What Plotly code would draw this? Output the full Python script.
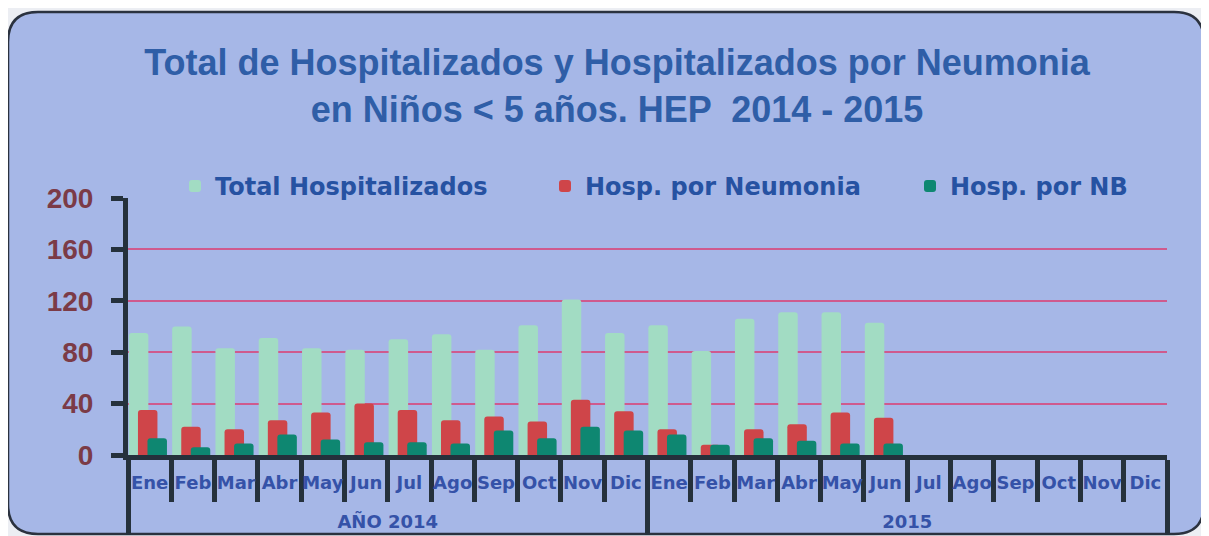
import plotly.graph_objects as go

months = ["Ene", "Feb", "Mar", "Abr", "May", "Jun", "Jul", "Ago", "Sep", "Oct", "Nov", "Dic"]
years = ["AÑO 2014", "2015"]

total_2014 = [95, 100, 83, 91, 83, 82, 90, 94, 82, 101, 121, 95]
total_2015 = [101, 81, 106, 111, 111, 103, None, None, None, None, None, None]
neumonia_2014 = [35, 22, 20, 27, 33, 40, 35, 27, 30, 26, 43, 34]
neumonia_2015 = [20, 8, 20, 24, 33, 29, None, None, None, None, None, None]
nb_2014 = [13, 6, 9, 16, 12, 10, 10, 9, 19, 13, 22, 19]
nb_2015 = [16, 8, 13, 11, 9, 9, None, None, None, None, None, None]

# year group labels are set one line lower, as in the original chart
x_year = ["<br>" + years[0]] * 12 + ["<br>" + years[1]] * 12
x_month = months + months
x = [x_year, x_month]

# page has an 8px body margin: screen coords = figure coords + 8
OFF = 8
SW, SH = 1209, 536
W, H = SW - OFF, SH - OFF
# plot area in screen pixels
PL, PR, PT, PB = 128, 1167, 198, 455
L, R, T, B = PL - OFF, W - (PR - OFF), PT - OFF, H - (PB - OFF)
pw, ph = PR - PL, PB - PT


def px(v):
    return (v - PL) / pw


def py(v):
    return (PB - v) / ph


series = [
    ("Total Hospitalizados", total_2014 + total_2015, "#a2dcc3", -0.48, "legend", 175),
    ("Hosp. por Neumonia", neumonia_2014 + neumonia_2015, "#cf4549", -0.27, "legend2", 545),
    ("Hosp. por NB", nb_2014 + nb_2015, "#0e8771", -0.05, "legend3", 910),
]

fig = go.Figure()
legends = {}
for name, vals, color, off, lg, lx in series:
    fig.add_trace(go.Bar(
        x=x, y=vals, name=name, legend=lg,
        marker=dict(color=color, line=dict(width=0), cornerradius=3),
        width=0.45, offset=off,
    ))
    legends[lg] = dict(
        orientation="h", x=px(lx), xanchor="left", y=py(164), yanchor="top",
        bgcolor="rgba(0,0,0,0)",
        font=dict(family="DejaVu Sans", size=24, color="#2652a2", weight="bold"),
        itemclick=False,
    )

x0, x1, y0, y1, rad = 8, 1204, 12, 534, 30
path = (
    f"M {px(x0 + rad)} {py(y0)} L {px(x1 - rad)} {py(y0)} "
    f"Q {px(x1)} {py(y0)} {px(x1)} {py(y0 + rad)} L {px(x1)} {py(y1 - rad)} "
    f"Q {px(x1)} {py(y1)} {px(x1 - rad)} {py(y1)} L {px(x0 + rad)} {py(y1)} "
    f"Q {px(x0)} {py(y1)} {px(x0)} {py(y1 - rad)} L {px(x0)} {py(y0 + rad)} "
    f"Q {px(x0)} {py(y0)} {px(x0 + rad)} {py(y0)} Z"
)

fig.update_layout(
    width=W, height=H,
    barmode="overlay",
    margin=dict(l=L, r=R, t=T, b=B, pad=0, autoexpand=False),
    paper_bgcolor="#eceef3",
    plot_bgcolor="#69a7ea",
    shapes=[dict(type="path", path=path, xref="paper", yref="paper",
                 fillcolor="#a6b7e7", line=dict(color="#2b323f", width=2.5),
                 layer="below")],
    title=dict(
        text="Total de Hospitalizados y Hospitalizados por Neumonia<br>en Niños < 5 años. HEP  2014 - 2015",
        x=(617 - OFF) / W, xanchor="center", y=1 - 67 / H, yanchor="middle",
        font=dict(family="Liberation Sans", size=36,
                  color="#2f5ea7", weight="bold"),
    ),
    showlegend=True,
    **legends,
)

fig.update_yaxes(
    range=[0, 200], dtick=40, tick0=0,
    showgrid=True, gridcolor="#cf5a8e", gridwidth=1.5,
    zeroline=False,
    showline=True, linecolor="#25313c", linewidth=5,
    ticks="outside", ticklen=12, tickwidth=5, tickcolor="#25313c",
    ticklabelstandoff=12,
    tickfont=dict(family="Liberation Sans", size=28, color="#7b3b47", weight="bold"),
    automargin=False,
)

fig.update_xaxes(
    showline=True, linecolor="#25313c", linewidth=5,
    ticks="outside", tickson="boundaries", ticklen=42, tickwidth=5, tickcolor="#25313c",
    showdividers=True, dividercolor="#25313c", dividerwidth=5,
    tickangle=0, ticklabelstandoff=7,
    tickfont=dict(family="DejaVu Sans", size=18, color="#3552a8", weight="bold"),
    automargin=False,
)

fig.write_html("out.html")
